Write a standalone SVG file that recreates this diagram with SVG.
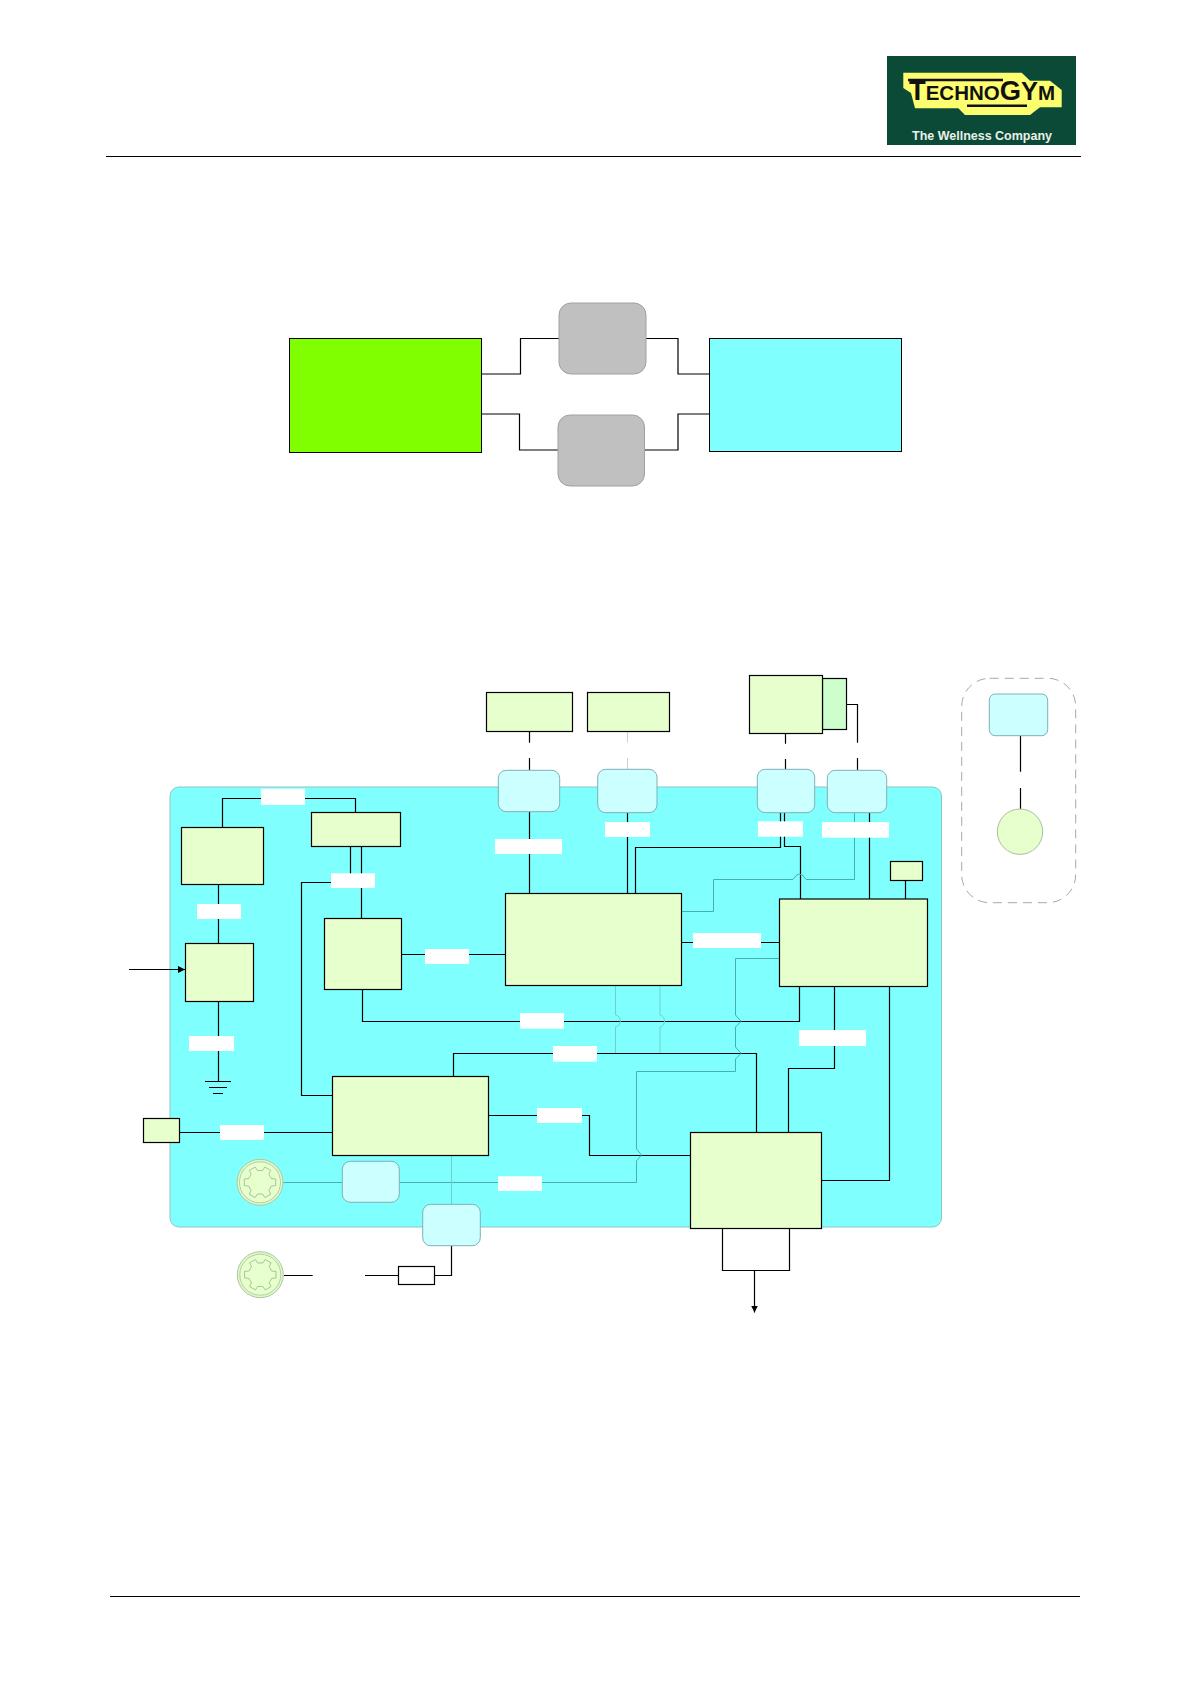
<svg xmlns="http://www.w3.org/2000/svg" width="1190" height="1684" viewBox="0 0 1190 1684">
<style>
.n{fill:#e6ffcc;stroke:#000;stroke-width:1.200}
.c{fill:#ccffff;stroke:#7fb0b4;stroke-width:1}
.g{fill:#c0c0c0;stroke:#a0a0a0;stroke-width:1}
.w{fill:#fff;stroke:none}
.k{fill:none;stroke:#000;stroke-width:1.200}
.t{fill:none;stroke:#45b0b4;stroke-width:1}
.t2{fill:none;stroke:#70cfd2;stroke-width:1}
</style>
<defs>
<marker id="ah" markerWidth="8" markerHeight="8" refX="7" refY="3.500" orient="auto" markerUnits="userSpaceOnUse"><path d="M0 0L7 3.500L0 7Z" fill="#000"/></marker>
<g id="gear"><circle r="23" fill="#e0f8c8" stroke="#a9c9a4"/><circle r="20.500" fill="#e6ffcc" stroke="#9dbb98" stroke-width=".7"/><path d="M-4.900-15.200L-2.500-11.700H2.500L4.900-15.200L10.700-11.900L8.900-8L11.400-3.700L15.700-3.300V3.300L11.400 3.700L8.900 8L10.700 11.900L4.900 15.200L2.500 11.700H-2.500L-4.900 15.200L-10.700 11.900L-8.900 8L-11.400 3.700L-15.700 3.300V-3.300L-11.400-3.700L-8.900-8L-10.700-11.900Z" fill="none" stroke="#7f9a80" stroke-width=".6"/></g>
</defs>
<rect width="1190" height="1684" fill="#fff"/>
<g id="logo">
<rect x="887" y="56" width="189" height="89" fill="#0c4a38"/>
<path d="M903.300 72.700H1021.700L1030 80.700H1050L1061.700 90V107.300H1040L1030 115H965L958.300 108.300H915L911 93L903.300 88Z" fill="#fdfd70"/>
<path d="M908 80H1003" stroke="#111" stroke-width="2.500" fill="none"/>
<path d="M967 105.700H1027" stroke="#111" stroke-width="2.500" fill="none"/>
<text x="909" y="100" font-family="Liberation Sans,sans-serif" font-weight="700" font-size="21" fill="#111" textLength="146" lengthAdjust="spacingAndGlyphs"><tspan font-size="28">T</tspan>ECHNO<tspan font-size="28">G</tspan><tspan font-size="26">Y</tspan>M</text>
<text x="912" y="140" font-family="Liberation Sans,sans-serif" font-weight="700" font-size="12" fill="#e8f0e8" textLength="140" lengthAdjust="spacingAndGlyphs">The Wellness Company</text>
</g>
<path d="M106 156.500H1081" class="k"/>
<path d="M110 1596.500H1080" class="k"/>
<g id="top-connectors">
<path class="k" d="M481 374H520.500V338.500H559M646 338.500H678V374H709M481 414H519.500V450H558M644 450H678V414H709"/>
</g>
<g id="top-nodes">
<rect id="t-green" x="289.500" y="338.500" width="192" height="114" fill="#80ff00" stroke="#000"/>
<rect id="t-cyan" x="709.500" y="338.500" width="192" height="113" fill="#80ffff" stroke="#000"/>
<rect id="t-gray1" class="g" x="559" y="303" width="87" height="71" rx="12"/>
<rect id="t-gray2" class="g" x="558" y="415" width="86.500" height="71" rx="12"/>
</g>
<rect id="panel" x="170" y="787" width="771.500" height="440" rx="9" fill="#80ffff" stroke="#8fc4c8"/>
<g id="connectors">
<path class="k" d="M222.500 827V798.500H355.500V812"/>
<path class="k" d="M218.500 885V943M218.500 1001V1081.500"/>
<path class="k" d="M205 1081.500H231M209 1087.500H227M213 1093.500H223"/>
<path class="k" d="M350.500 847V880M361.500 847V918"/>
<path class="k" d="M339 882.500H301.500V1095.500H332"/>
<path class="k" d="M399 954.500H505"/>
<path class="k" d="M529.500 731.500V742.700M529.500 758V770M529.500 812V893"/>
<path d="M627.500 731.500V742.700M627.500 758V769" fill="none" stroke="#d0d0d0"/>
<path class="k" d="M627.500 813V893"/>
<path class="k" d="M785.500 733.500V743.700M785.500 759V769"/>
<path class="k" d="M780.500 813V847.500H635.500V893M784.500 813V846.500H800.500V899"/>
<path class="k" d="M846.700 704.500H857.500V742.700M857.500 758V770M869.500 813V899M905.500 881V899"/>
<path class="t" d="M854.500 813V879.500H806L804 877A5 5 0 0 0 795 877L793 879.500H713.500V911.500H682"/>
<path class="k" d="M682 942.500H779"/>
<path class="k" d="M362.500 990V1021.500H799.500V986"/>
<path class="k" d="M453.500 1076V1053.500H756.500V1132"/>
<path class="k" d="M489 1115.500H589.500V1155.500H690"/>
<path class="k" d="M834.500 986V1068.500H788.500V1132"/>
<path class="k" d="M889.500 986V1180.500H822"/>
<path class="k" d="M722.500 1228V1270.500H789.500V1228"/>
<path class="k" d="M754.500 1270.500V1312.500" marker-end="url(#ah)"/>
<path class="k" d="M129 969.500H185" marker-end="url(#ah)"/>
<path class="k" d="M180 1132.500H332"/>
<path class="t2" d="M615.500 985.500V1015C622 1016 622 1026 615.500 1027V1053M660 985.500V1015C666 1016 666 1026 660 1027V1053"/>
<path class="t" d="M779 958.500H735.500V1015L741 1021.300L735.500 1027V1047L741 1053.300L735.500 1059V1071.500H636.500V1149L641.500 1155L636.500 1161V1182.500H283"/>
<path class="t2" d="M451.500 1155.500V1204"/>
<path class="k" d="M284 1275.500H312.700M365 1275.500H398M435 1275.500H451.500V1246"/>
<path class="k" d="M1020.500 736V771.700M1020.500 788V809"/>
</g>
<g id="nodes">
<rect id="n-a" class="n" x="181.500" y="827.500" width="82" height="57"/>
<rect id="n-b" class="n" x="311.500" y="812.500" width="89" height="34"/>
<rect id="n-c" class="n" x="185.500" y="943.500" width="68" height="58"/>
<rect id="n-d" class="n" x="324.500" y="918.500" width="77" height="71"/>
<rect id="n-e" class="n" x="332.500" y="1076.500" width="156" height="79"/>
<rect id="n-f" class="n" x="505.500" y="893.500" width="176" height="92"/>
<rect id="n-g" class="n" x="486.500" y="692.500" width="86" height="39"/>
<rect id="n-h" class="n" x="587.500" y="692.500" width="82" height="39"/>
<rect id="n-i2" x="822.500" y="678.500" width="24" height="51" fill="#ccffcc" stroke="#000" stroke-width="1.200"/>
<rect id="n-i" class="n" x="749.500" y="675.500" width="73" height="58"/>
<rect id="n-j" class="n" x="779.500" y="899" width="148" height="87.500"/>
<rect id="n-k" class="n" x="890.500" y="861.500" width="32" height="19"/>
<rect id="n-n" class="n" x="690.500" y="1132.500" width="131" height="96"/>
<rect id="n-p" class="n" x="143.500" y="1118.500" width="36" height="24"/>
<rect id="n-r" x="398.500" y="1266.500" width="36" height="18" fill="#fff" stroke="#000" stroke-width="1.200"/>
<rect id="c-g" class="c" x="498.300" y="770.300" width="61.400" height="41.400" rx="8"/>
<rect id="c-h" class="c" x="597.700" y="769.300" width="59.300" height="43.400" rx="8"/>
<rect id="c-i" class="c" x="757.300" y="769.300" width="57.400" height="43.400" rx="8"/>
<rect id="c-j" class="c" x="827.300" y="770.300" width="59.400" height="42.400" rx="8"/>
<rect id="c-l" class="c" x="342.300" y="1161.300" width="57" height="41" rx="8"/>
<rect id="c-m" class="c" x="422.700" y="1204.300" width="57.600" height="41.400" rx="8"/>
<use id="gear-1" href="#gear" x="260" y="1182.300"/>
<use id="gear-2" href="#gear" x="260.300" y="1274.700"/>
</g>
<g id="labels">
<rect class="w" x="261" y="788.700" width="44" height="16.300"/>
<rect class="w" x="197" y="904" width="44" height="15"/>
<rect class="w" x="331" y="873.300" width="44" height="14.700"/>
<rect class="w" x="425" y="949" width="44" height="15"/>
<rect class="w" x="495" y="839" width="67" height="15"/>
<rect class="w" x="605" y="822" width="45" height="15"/>
<rect class="w" x="758" y="821.300" width="45" height="15.400"/>
<rect class="w" x="822" y="822" width="67" height="15.700"/>
<rect class="w" x="693" y="933" width="68" height="15"/>
<rect class="w" x="189" y="1036" width="45" height="15"/>
<rect class="w" x="220" y="1125" width="44" height="15"/>
<rect class="w" x="520" y="1013" width="44" height="15.700"/>
<rect class="w" x="553" y="1046" width="44" height="15.700"/>
<rect class="w" x="537" y="1108" width="45" height="15"/>
<rect class="w" x="799" y="1030" width="67" height="16"/>
<rect class="w" x="498" y="1176.300" width="44" height="14.700"/>
</g>
<g id="legend">
<rect x="961.700" y="678.300" width="114" height="224.400" rx="28" fill="none" stroke="#a8a8a8" stroke-dasharray="9 6"/>
<rect id="leg-box" class="c" x="989.300" y="694" width="58.400" height="41.700" rx="6"/>
<circle id="leg-circle" cx="1020" cy="831.700" r="22.700" fill="#e6ffcc" stroke="#a9c0a0"/>
</g>
</svg>
